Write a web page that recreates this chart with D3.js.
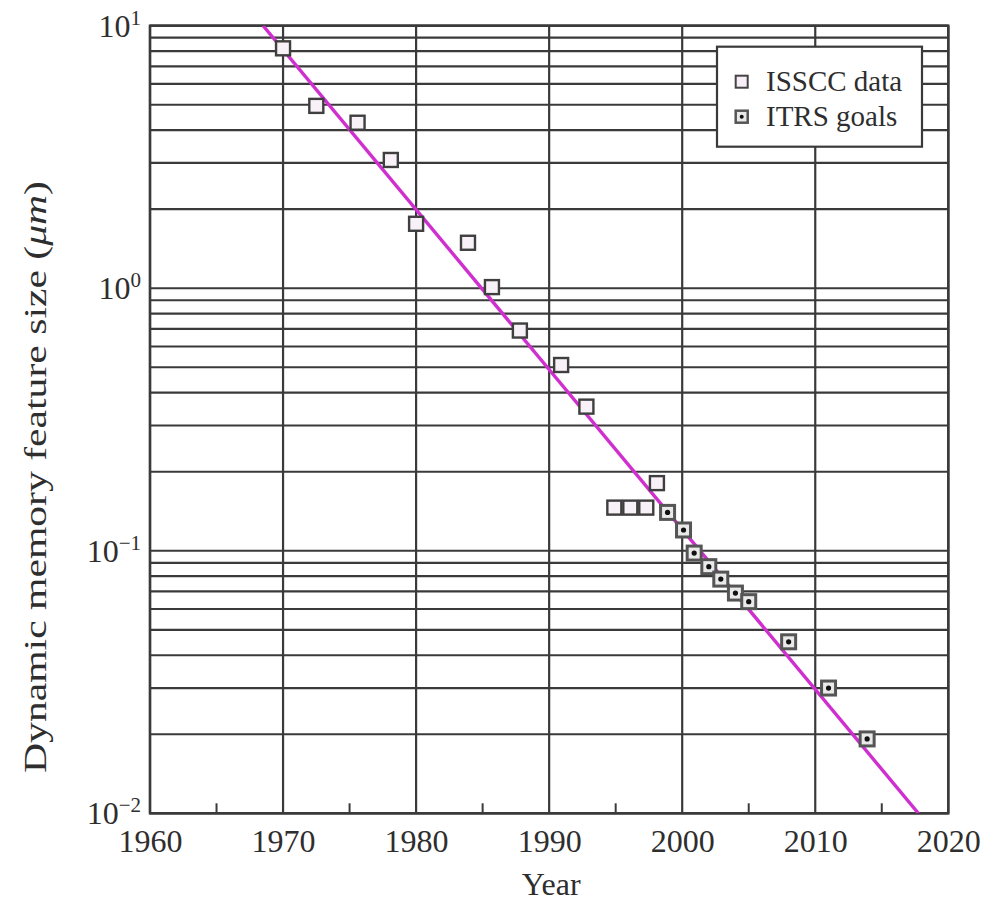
<!DOCTYPE html>
<html>
<head>
<meta charset="utf-8">
<script src="https://cdn.jsdelivr.net/npm/d3@7"></script>
<style>
  html, body { margin: 0; padding: 0; background: #fff; }
  svg { display: block; }
  text { font-family: "Liberation Serif", "DejaVu Serif", serif; fill: #2e2e2e; }
</style>
</head>
<body>
<svg id="chart" width="998" height="901"></svg>
<script>
// ---- data ----
const issccYears  = [1970, 1972.5, 1975.6, 1978.1, 1980.0, 1983.9, 1985.7, 1987.8, 1990.9, 1992.8, 1994.9, 1996.1, 1997.3, 1998.1];
const issccValues = [8.2, 4.95, 4.27, 3.08, 1.76, 1.49, 1.01, 0.69, 0.51, 0.354, 0.146, 0.146, 0.146, 0.181];
const itrsYears   = [1998.9, 2000.1, 2000.9, 2002.0, 2002.9, 2004.0, 2005.0, 2008.0, 2011.0, 2013.9];
const itrsValues  = [0.140, 0.120, 0.098, 0.087, 0.078, 0.069, 0.064, 0.045, 0.030, 0.0192];
const trendYears  = [1968.5, 2017.75];
const trendValues = [10, 0.01];
const xTickYears  = [1960, 1970, 1980, 1990, 2000, 2010, 2020];
const xMinorYears = [1965, 1975, 1985, 1995, 2005, 2015];
const yTickExps   = [1, 0, -1, -2];
const legendLabels = ["ISSCC data", "ITRS goals"];

// ---- layout ----
const svg = d3.select("#chart");
const L = 150, R = 948.3, T = 25.7, B = 813.3;
const x = d3.scaleLinear().domain([1960, 2020]).range([L, R]);
const y = d3.scaleLog().domain([0.01, 10]).range([B, T]);
const gridColor = "#3a3a3a";

// horizontal grid lines (1..9 x 10^k)
const yGrid = [];
for (let e = -2; e <= 0; e++) for (let m = 1; m <= 9; m++) yGrid.push(m * Math.pow(10, e));
yGrid.push(10);
svg.append("g").selectAll("line").data(yGrid).join("line")
  .attr("x1", L).attr("x2", R)
  .attr("y1", d => y(d)).attr("y2", d => y(d))
  .attr("stroke", gridColor).attr("stroke-width", 2.2);

// vertical grid lines at decades
svg.append("g").selectAll("line").data(xTickYears).join("line")
  .attr("x1", d => x(d)).attr("x2", d => x(d))
  .attr("y1", T).attr("y2", B)
  .attr("stroke", gridColor).attr("stroke-width", 2.2);

// minor ticks at bottom
svg.append("g").selectAll("line").data(xMinorYears).join("line")
  .attr("x1", d => x(d)).attr("x2", d => x(d))
  .attr("y1", B).attr("y2", B - 10)
  .attr("stroke", gridColor).attr("stroke-width", 2);

// frame
svg.append("rect").attr("x", L).attr("y", T).attr("width", R - L).attr("height", B - T)
  .attr("fill", "none").attr("stroke", gridColor).attr("stroke-width", 2.5);

// x tick labels via axis
const xAxis = d3.axisBottom(x).tickValues(xTickYears).tickFormat(d3.format("d")).tickSize(0).tickPadding(0);
const gx = svg.append("g").attr("transform", `translate(0,${B})`).call(xAxis);
gx.select(".domain").remove();
gx.selectAll("text").attr("dy", null).attr("y", 38.5)
  .style("font-family", '"Liberation Serif", serif').style("font-size", "32px").attr("fill", "#2e2e2e");

// y tick labels 10^k
const yLab = svg.append("g").selectAll("text").data(yTickExps).join("text")
  .attr("x", 141).attr("y", d => y(Math.pow(10, d)) + 11)
  .attr("text-anchor", "end").style("font-size", "32px");
yLab.append("tspan").text("10");
yLab.append("tspan").attr("dy", -12).style("font-size", "21px")
  .text(d => d < 0 ? "\u2212" + (-d) : String(d));

// axis titles
svg.append("text").attr("x", (L + R) / 2 + 2).attr("y", 895).attr("text-anchor", "middle")
  .style("font-size", "32px").text("Year");
const yt = svg.append("text").attr("transform", `translate(46,477) rotate(-90)`)
  .attr("text-anchor", "middle").style("font-size", "32px")
  .attr("textLength", 592).attr("lengthAdjust", "spacingAndGlyphs");
yt.append("tspan").text("Dynamic memory feature size (");
yt.append("tspan").style("font-style", "italic").text("\u03bcm");
yt.append("tspan").text(")");

// clip for trend line
svg.append("clipPath").attr("id", "plotclip").append("rect")
  .attr("x", L).attr("y", T).attr("width", R - L).attr("height", B - T);

// trend line
const trend = trendYears.map((d, i) => [d, trendValues[i]]);
svg.append("path").datum(trend).attr("clip-path", "url(#plotclip)")
  .attr("d", d3.line().x(d => x(d[0])).y(d => y(d[1])))
  .attr("stroke", "#d02fd0").attr("stroke-width", 3.4).attr("fill", "none");

// markers
const S = 14;
const issc = issccYears.map((d, i) => [d, issccValues[i]]);
svg.append("g").selectAll("rect").data(issc).join("rect")
  .attr("x", d => x(d[0]) - S / 2).attr("y", d => y(d[1]) - S / 2)
  .attr("width", S).attr("height", S)
  .attr("fill", "#f8f1f8").attr("stroke", "#3f3f3f").attr("stroke-width", 2.4);

const itrs = itrsYears.map((d, i) => [d, itrsValues[i]]);
const gi = svg.append("g").selectAll("g").data(itrs).join("g")
  .attr("transform", d => `translate(${x(d[0])},${y(d[1])})`);
gi.append("rect").attr("x", -S / 2).attr("y", -S / 2).attr("width", S).attr("height", S)
  .attr("fill", "#e9e9e9").attr("stroke", "#555").attr("stroke-width", 3);
gi.append("circle").attr("r", 2.6).attr("fill", "#111");

// legend
const lg = svg.append("g");
lg.append("rect").attr("x", 717).attr("y", 46.7).attr("width", 205).attr("height", 100)
  .attr("fill", "#fff").attr("stroke", gridColor).attr("stroke-width", 2.2);
const legY = [81.7, 116.7];
lg.append("rect").attr("x", 741.7 - 6).attr("y", legY[0] - 6).attr("width", 12).attr("height", 12)
  .attr("fill", "#f8eef8").attr("stroke", "#444").attr("stroke-width", 2);
lg.append("rect").attr("x", 741.7 - 6).attr("y", legY[1] - 6).attr("width", 12).attr("height", 12)
  .attr("fill", "#e9e9e9").attr("stroke", "#555").attr("stroke-width", 2.5);
lg.append("circle").attr("cx", 741.7).attr("cy", legY[1]).attr("r", 2).attr("fill", "#111");
lg.selectAll("text.leg").data(legendLabels).join("text").attr("class", "leg")
  .attr("x", 766).attr("y", (d, i) => legY[i] + 9.5)
  .style("font-size", "29px").text(d => d);
</script>
</body>
</html>
